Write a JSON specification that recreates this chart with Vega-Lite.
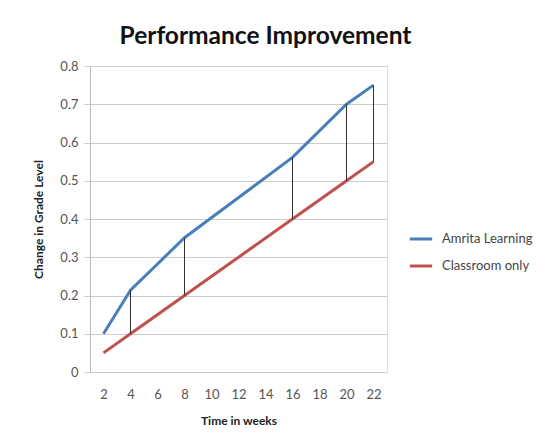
{
  "$schema": "https://vega.github.io/schema/vega-lite/v6.json",
  "width": 297,
  "height": 306,
  "autosize": "none",
  "padding": {"left": 90, "top": 66, "right": 171, "bottom": 76},
  "background": "white",
  "title": {
    "text": "Performance Improvement",
    "font": "Lato",
    "fontSize": 24.5,
    "fontWeight": "bold",
    "color": "#111111",
    "anchor": "middle",
    "dx": 27,
    "offset": 11
  },
  "data": {
    "values": [
      {"week": 2, "Amrita Learning": 0.1, "Classroom only": 0.05},
      {"week": 4, "Amrita Learning": 0.214, "Classroom only": 0.1},
      {"week": 8, "Amrita Learning": 0.351, "Classroom only": 0.2},
      {"week": 16, "Amrita Learning": 0.561, "Classroom only": 0.4},
      {"week": 20, "Amrita Learning": 0.7, "Classroom only": 0.5},
      {"week": 22, "Amrita Learning": 0.75, "Classroom only": 0.55}
    ]
  },
  "resolve": {"axis": {"y": "independent"}},
  "encoding": {
    "x": {
      "field": "week",
      "type": "ordinal",
      "scale": {"type": "point", "domain": [2, 4, 6, 8, 10, 12, 14, 16, 18, 20, 22], "padding": 0.5},
      "axis": {
        "title": "Time in weeks",
        "titleFont": "Lato",
        "titleFontSize": 12,
        "titleFontWeight": "bold",
        "titleColor": "#222222",
        "titlePadding": 14,
        "labelAngle": 0,
        "labelFont": "Lato",
        "labelFontSize": 13,
        "labelColor": "#555555",
        "labelPadding": 16,
        "domain": false,
        "ticks": false,
        "grid": false
      }
    }
  },
  "layer": [
    {
      "transform": [{"fold": ["Amrita Learning", "Classroom only"], "as": ["series", "value"]}],
      "mark": {"type": "line", "strokeWidth": 3},
      "encoding": {
        "y": {
          "field": "value",
          "type": "quantitative",
          "scale": {"domain": [0, 0.8], "nice": false},
          "axis": {
            "title": "Change in Grade Level",
            "titleFont": "Lato",
            "titleFontSize": 12,
            "titleFontWeight": "bold",
            "titleColor": "#222222",
            "titlePadding": 14,
            "values": [0, 0.1, 0.2, 0.3, 0.4, 0.5, 0.6, 0.7, 0.8],
            "format": ".1~f",
            "labelOverlap": false,
            "labelFont": "Lato",
            "labelFontSize": 13,
            "labelColor": "#555555",
            "labelPadding": 6,
            "grid": true,
            "gridColor": "#cccccc",
            "gridWidth": 1,
            "tickColor": "#cccccc",
            "tickSize": 6,
            "domainColor": "#bbbbbb"
          }
        },
        "color": {
          "field": "series",
          "type": "nominal",
          "scale": {"domain": ["Amrita Learning", "Classroom only"], "range": ["#4a7ebb", "#c0504d"]},
          "legend": {
            "title": null,
            "orient": "none",
            "legendX": 318,
            "legendY": 160,
            "symbolType": "stroke",
            "symbolSize": 500,
            "symbolStrokeWidth": 3,
            "labelFont": "Lato",
            "labelFontSize": 13,
            "labelColor": "#444444",
            "rowPadding": 7,
            "labelOffset": 8
          }
        }
      }
    },
    {
      "transform": [{"filter": "datum.week > 2"}],
      "mark": {"type": "rule", "color": "#333333", "strokeWidth": 1},
      "encoding": {
        "y": {"field": "Classroom only", "type": "quantitative", "axis": null},
        "y2": {"field": "Amrita Learning"}
      }
    }
  ]
}
